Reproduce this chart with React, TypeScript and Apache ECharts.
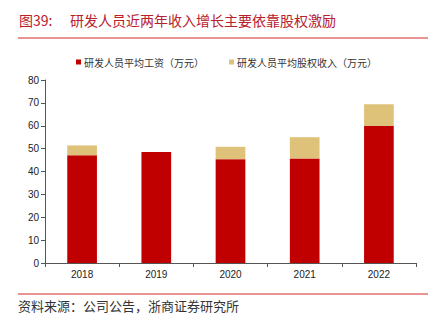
import React, { useEffect, useRef } from "react";
import * as echarts from "echarts";

const categories = ["2018", "2019", "2020", "2021", "2022"];
const salary = [47.1, 48.5, 45.4, 45.7, 59.9];
const equity = [4.3, 0, 5.4, 9.3, 9.5];
const seriesNames = ["研发人员平均工资（万元）", "研发人员平均股权收入（万元）"];
const titleNo = "图39:";
const titleText = "研发人员近两年收入增长主要依靠股权激励";
const sourceText = "资料来源：公司公告，浙商证券研究所";

export default function App() {
  const ref = useRef<HTMLDivElement>(null);
  useEffect(() => {
    if (!ref.current) return;
    const chart = echarts.init(ref.current, null, { renderer: "svg" });
    const cjk = '"Noto Sans CJK SC", sans-serif';
    chart.setOption({
      animation: false,
      backgroundColor: "#fff",
      graphic: [
        { type: "text", left: 19, top: 13, style: { text: titleNo, fill: "#b8202e", font: `14px ${cjk}` } },
        { type: "text", left: 70, top: 13, style: { text: titleText, fill: "#b8202e", font: `14px ${cjk}` } },
        { type: "line", shape: { x1: 18, y1: 38, x2: 428, y2: 38 }, style: { stroke: "#e07070", lineWidth: 1.5 } },
        { type: "line", shape: { x1: 18, y1: 294, x2: 428, y2: 294 }, style: { stroke: "#e07070", lineWidth: 1.5 } },
        { type: "text", left: 18, top: 299, style: { text: sourceText, fill: "#333", font: `13px ${cjk}` } },
      ],
      legend: {
        left: 71,
        top: 52,
        itemWidth: 5,
        itemHeight: 5,
        itemGap: 25,
        icon: "rect",
        textStyle: { fontFamily: "Noto Sans CJK SC", fontSize: 10, color: "#333", padding: [0, 0, 0, -2] },
        data: seriesNames,
      },
      grid: { left: 45, right: 25, top: 80, bottom: 64 },
      xAxis: {
        type: "category",
        data: categories,
        axisLine: { lineStyle: { color: "#555" } },
        axisTick: { show: true, alignWithLabel: false, length: 4, lineStyle: { color: "#555" } },
        axisLabel: { color: "#222", fontFamily: "Liberation Sans", fontSize: 10, margin: 6 },
      },
      yAxis: {
        type: "value",
        min: 0,
        max: 80,
        interval: 10,
        splitLine: { show: false },
        axisLine: { show: true, lineStyle: { color: "#555" } },
        axisTick: { show: true, length: 4, lineStyle: { color: "#555" } },
        axisLabel: { color: "#222", fontFamily: "Liberation Sans", fontSize: 10, margin: 6 },
      },
      series: [
        {
          name: seriesNames[0],
          type: "bar",
          stack: "a",
          data: salary,
          barWidth: "40%",
          itemStyle: { color: "#c00000" },
        },
        {
          name: seriesNames[1],
          type: "bar",
          stack: "a",
          data: equity,
          barWidth: "40%",
          itemStyle: { color: "#dfc27a" },
        },
      ],
    });
    return () => chart.dispose();
  }, []);
  return <div ref={ref} style={{ width: 441, height: 327, position: "absolute", left: 0, top: 0 }} />;
}
